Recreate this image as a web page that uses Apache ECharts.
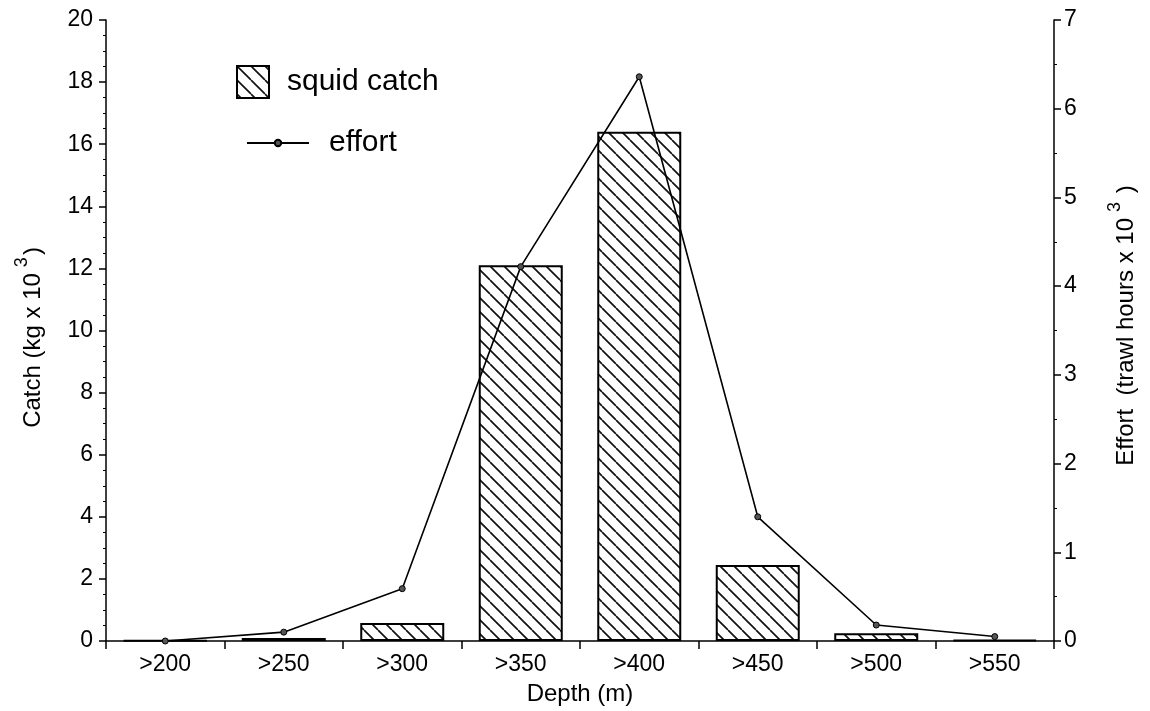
<!DOCTYPE html>
<html>
<head>
<meta charset="utf-8">
<script src="https://cdn.jsdelivr.net/npm/echarts@6/dist/echarts.min.js"></script>
<style>
  html, body { margin: 0; padding: 0; background: #fff; }
  #chart { width: 1150px; height: 711px; }
</style>
</head>
<body>
<div id="chart"></div>
<script>
/* squid catch & trawl effort by depth — bar + line, dual y axis */

var depthLabels  = [">200", ">250", ">300", ">350", ">400", ">450", ">500", ">550"];
var catchValues  = [0.02, 0.1, 0.58, 12.1, 16.4, 2.45, 0.25, 0.04];   // kg x 10^3
var effortValues = [0, 0.1, 0.59, 4.22, 6.36, 1.4, 0.18, 0.05];       // trawl hours x 10^3

var FONT = "'Liberation Sans', Arial, Helvetica, sans-serif";

// diagonal hatch tile ("\\\\")
function makeHatch() {
  var c = document.createElement("canvas");
  c.width = 14; c.height = 14;
  var g = c.getContext("2d");
  g.fillStyle = "#fff";
  g.fillRect(0, 0, 14, 14);
  g.strokeStyle = "#111";
  g.lineWidth = 1.7;
  [-14, 0, 14].forEach(function(k) {
    g.beginPath();
    g.moveTo(k, 0);
    g.lineTo(k + 14, 14);
    g.stroke();
  });
  return c;
}

var chart = echarts.init(document.getElementById("chart"), null, { renderer: "canvas" });
var axisBlack = { color: "#000", width: 1.5 };
var supStyle = { fontSize: 18, fontFamily: FONT, color: "#000", padding: [0, 2, 22, 6] };

chart.setOption({
  animation: false,
  backgroundColor: "#fff",
  textStyle: { fontFamily: FONT, color: "#000" },
  grid: { left: 106, right: 96, top: 20, bottom: 70, containLabel: false, outerBoundsMode: "none" },
  legend: [
    {
      data: [{ name: "squid catch", icon: "rect" }],
      left: 236, top: 65, padding: 0,
      itemWidth: 32, itemHeight: 32,
      textStyle: { fontSize: 30, fontFamily: FONT, color: "#000", padding: [0, 0, 0, 13] },
      selectedMode: false
    },
    {
      data: ["effort"],
      left: 246, top: 128, padding: 0,
      itemWidth: 62, itemHeight: 8,
      textStyle: { fontSize: 30, fontFamily: FONT, color: "#000", padding: [0, 0, 0, 15] },
      selectedMode: false
    }
  ],
  xAxis: {
    type: "category",
    data: depthLabels,
    boundaryGap: true,
    axisLine: { lineStyle: axisBlack },
    axisTick: { show: true, length: 8, lineStyle: axisBlack },
    axisLabel: { fontSize: 23, color: "#000", margin: 12, fontFamily: FONT },
    name: "Depth (m)",
    nameLocation: "middle",
    nameGap: 41,
    nameTextStyle: { fontSize: 24, color: "#000", fontFamily: FONT }
  },
  yAxis: [
    {
      type: "value",
      min: 0, max: 20, interval: 2,
      position: "left",
      axisLine: { show: true, lineStyle: axisBlack },
      axisTick: { show: true, length: 7, lineStyle: axisBlack },
      minorTick: { show: true, splitNumber: 4, length: 3, lineStyle: { color: "#000", width: 1 } },
      splitLine: { show: false },
      axisLabel: { fontSize: 23, color: "#000", margin: 13, fontFamily: FONT },
      name: "Catch (kg x 10{sup|3})",
      nameLocation: "middle",
      nameGap: 53,
      nameTextStyle: {
        fontSize: 24, color: "#000", fontFamily: FONT, padding: [0, 14, 0, 0],
        rich: { sup: supStyle }
      }
    },
    {
      type: "value",
      min: 0, max: 7, interval: 1,
      position: "right",
      axisLine: { show: true, lineStyle: axisBlack },
      axisTick: { show: true, length: 7, lineStyle: axisBlack },
      minorTick: { show: true, splitNumber: 2, length: 3, lineStyle: { color: "#000", width: 1 } },
      splitLine: { show: false },
      axisLabel: { fontSize: 23, color: "#000", margin: 10, fontFamily: FONT },
      name: "Effort  (trawl hours x 10{sup|3} )",
      nameLocation: "middle",
      nameGap: 52,
      nameTextStyle: {
        fontSize: 24, color: "#000", fontFamily: FONT, padding: [0, 0, 0, 10],
        rich: { sup: supStyle }
      }
    }
  ],
  series: [
    {
      name: "squid catch",
      type: "bar",
      yAxisIndex: 0,
      data: catchValues,
      barWidth: 84,
      itemStyle: {
        color: { image: makeHatch(), repeat: "repeat" },
        borderColor: "#000",
        borderWidth: 2
      },
      z: 2
    },
    {
      name: "effort",
      type: "line",
      yAxisIndex: 1,
      data: effortValues,
      symbol: "circle",
      symbolSize: 6,
      color: "#000",
      lineStyle: { color: "#000", width: 1.6 },
      itemStyle: { color: "#555", borderColor: "#000", borderWidth: 1 },
      z: 5
    }
  ]
});
</script>
</body>
</html>
